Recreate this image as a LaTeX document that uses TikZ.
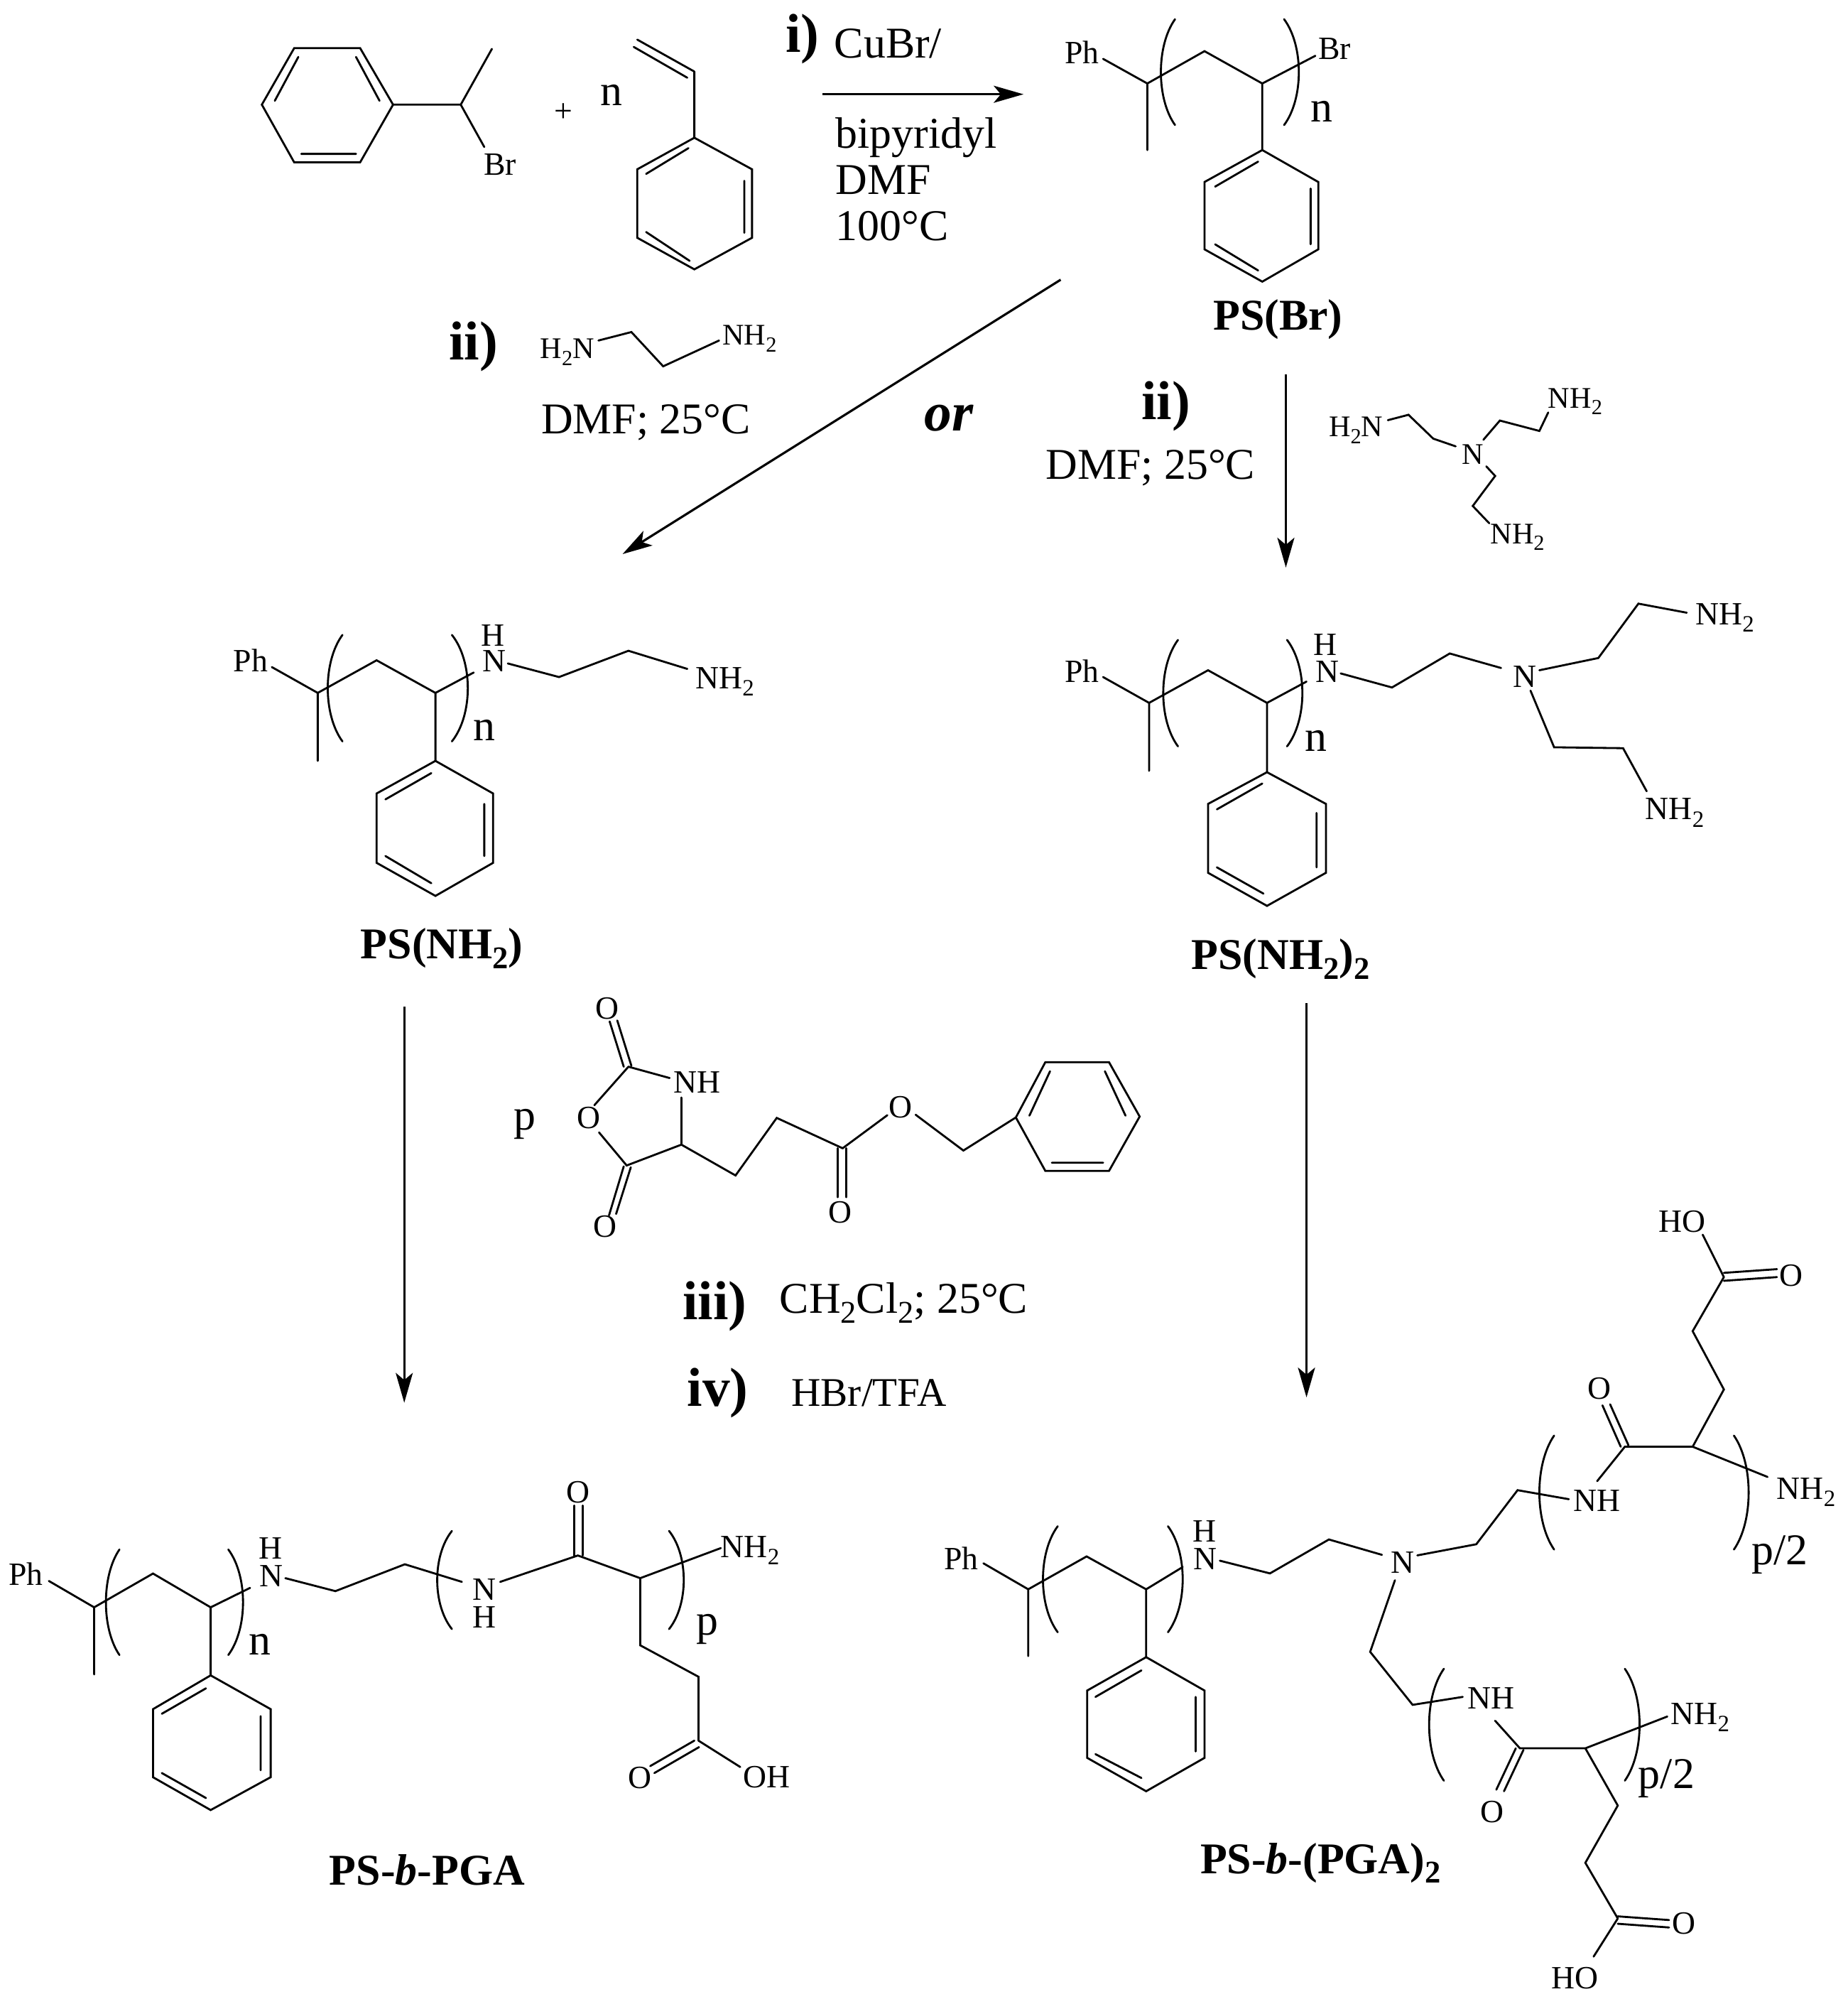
\documentclass[tikz,border=0pt]{standalone}
\usepackage{fontspec}
\setmainfont{Liberation Serif}
\usetikzlibrary{arrows.meta}
\newcommand{\dn}[1]{\raisebox{-0.22em}{\scalebox{0.72}{#1}}}
\newcommand{\brk}[4]{\draw[bond] (#1,#2) .. controls ({#1+(#4-#1)*4/3},{#2+(#3-#2)/4}) and ({#1+(#4-#1)*4/3},{#2+3*(#3-#2)/4}) .. (#1,#3);}
\tikzset{
  bond/.style={line width=0.8pt,black,line cap=round,line join=miter},
  rxn/.style={line width=0.9pt,black,-{Stealth[length=0.42cm,width=0.24cm,inset=0.1cm]}},
  base/.style={inner sep=0pt,outer sep=0pt,anchor=base west,text=black},
  lab/.style={base,font=\fontsize{13}{15}\selectfont},
  labs/.style={base,font=\fontsize{12}{14}\selectfont},
  txt/.style={base,font=\fontsize{17.6}{20}\selectfont},
  ttl/.style={base,font=\fontsize{17.6}{20}\selectfont\bfseries},
  stp/.style={base,font=\fontsize{22}{24}\selectfont\bfseries},
  atom/.style={inner sep=0pt,outer sep=0pt,anchor=center,text=black,font=\fontsize{13}{15}\selectfont},
  zA/.style={x=0.008292cm,y=-0.005421cm},
  zB/.style={xshift=13cm,x=0.008297cm,y=-0.005421cm},
  zC/.style={yshift=-8cm,x=0.00829cm,y=-0.006378cm},
  zD/.style={xshift=13cm,yshift=-8cm,x=0.008297cm,y=-0.006378cm},
  zE/.style={yshift=-18cm,x=0.00829cm,y=-0.006512cm},
  zF/.style={xshift=13cm,yshift=-16.5cm,x=0.008297cm,y=-0.007468cm},
}
\begin{document}
\begin{tikzpicture}
\useasboundingbox (0,0) rectangle (26.01,-28.21);
\fill[white] (0,0) rectangle (26.01,-28.21);
% ---------- zone A: top left
\begin{scope}[zA]
\draw[bond] (445,272)--(500,125)--(612,125)--(668,272)--(612,422)--(500,422)--cycle;
\draw[bond] (467,262)--(507,148) (605,148)--(645,262) (512,400)--(605,400);
\draw[bond] (668,272)--(783,272)--(836,127) (783,272)--(823,382);
\node[lab] (brA) at (822,455) {Br};
\node[lab,anchor=center] (plus) at (958,292) {+};
\node[txt] (nA) at (1020,275) {n};
\draw[bond] (1083,103)--(1180,186) (1077,122)--(1168,202) (1180,186)--(1180,358);
\draw[bond] (1180,358)--(1278,440)--(1278,618)--(1180,700)--(1083,618)--(1083,440)--cycle;
\draw[bond] (1098,452)--(1170,385) (1265,470)--(1265,605) (1098,603)--(1172,678);
\node[stp] (stepi) at (1335,135) {i)};
\node[txt] (cubr) at (1418,150) {CuBr/};
\node[txt] (bipy) at (1420,385) {bipyridyl};
\node[txt] (dmfA) at (1420,505) {DMF};
\node[txt] (tempA) at (1420,625) {100°C};
\coordinate (a1s) at (1398,245);
\node[stp] (stepiiA) at (763,935) {ii)};
\node[labs] (h2nA) at (918,932) {H\dn{2}N};
\node[labs] (nh2A) at (1228,897) {NH\dn{2}};
\draw[bond] (1017,885)--(1073,863)--(1127,952)--(1222,885);
\node[txt] (dmfB) at (920,1128) {DMF; 25°C};
\coordinate (a2e) at (1058,1440);
\end{scope}
% ---------- zone B: top right
\begin{scope}[zB]
\coordinate (a1e) at (170,245);
\coordinate (a2s) at (233,727);
\node[lab] (phB) at (240,165) {Ph};
\draw[bond] (305,153)--(380,217)--(380,390) (380,217)--(477,133)--(575,217)--(665,145) (575,217)--(575,390);
\node[lab] (brB) at (670,155) {Br};
\brk{427}{50}{325}{403}
\brk{612}{50}{325}{637}
\node[txt] (nB) at (657,317) {n};
\draw[bond] (575,390)--(670,473)--(670,648)--(575,732)--(477,648)--(477,473)--cycle;
\draw[bond] (495,485)--(568,420) (657,490)--(657,635) (495,635)--(568,703);
\node[ttl] (psbr) at (492,858) {PS(Br)};
\node[base,font=\fontsize{22}{24}\selectfont\bfseries\itshape,anchor=base east] (orlab) at (85,1120) {or};
\node[stp] (stepiiB) at (370,1090) {ii)};
\node[txt] (dmfC) at (208,1245) {DMF; 25°C};
\coordinate (a3s) at (615,973);
\coordinate (a3e) at (615,1475);
\node[labs] (h2nB) at (688,1135) {H\dn{2}N};
\draw[bond] (788,1092)--(823,1078)--(865,1140)--(903,1160);
\node[labs] (nB2) at (914,1207) {N};
\draw[bond] (950,1143)--(978,1093)--(1045,1120)--(1060,1072);
\node[labs] (nh2B) at (1060,1060) {NH\dn{2}};
\draw[bond] (955,1212)--(970,1237)--(932,1315)--(960,1360);
\node[labs] (nh2C) at (962,1413) {NH\dn{2}};
\end{scope}
% ---------- zone C: middle left
\begin{scope}[zC]
\node[lab] (phC) at (397,228) {Ph};
\draw[bond] (462,218)--(540,275)--(540,425) (540,275)--(640,203)--(740,275)--(805,230) (740,275)--(740,425);
\node[atom] (hC) at (838,148) {H};
\node[lab] (nC) at (820,228) {N};
\draw[bond] (863,210)--(950,240)--(1068,182)--(1168,222);
\node[lab] (nh2D) at (1182,265) {NH\dn{2}};
\brk{582}{147}{382}{557}
\brk{768}{147}{382}{795}
\node[txt] (nnC) at (805,380) {n};
\draw[bond] (740,425)--(838,497)--(838,650)--(740,723)--(640,650)--(640,497)--cycle;
\draw[bond] (655,510)--(733,452) (823,520)--(823,635) (655,635)--(733,695);
\node[ttl] (psnh) at (613,862) {PS(NH\dn{2})};
\coordinate (a4s) at (687,967);
\node[txt] (pC) at (873,1240) {p};
\node[atom] (oa) at (1032,972) {O};
\draw[bond] (1036,1000)--(1060,1100) (1049,998)--(1073,1098);
\draw[bond] (1068,1100)--(1138,1125);
\node[lab] (nhC) at (1145,1158) {NH};
\draw[bond] (1158,1168)--(1158,1272)--(1065,1318)--(1018,1245);
\node[atom] (ob) at (1000,1213) {O};
\draw[bond] (1010,1185)--(1068,1100);
\draw[bond] (1060,1320)--(1035,1428) (1072,1322)--(1047,1425);
\node[atom] (oc) at (1028,1452) {O};
\draw[bond] (1158,1272)--(1250,1340)--(1320,1213)--(1432,1280);
\draw[bond] (1424,1280)--(1424,1388) (1438,1280)--(1438,1388);
\node[atom] (od) at (1428,1422) {O};
\draw[bond] (1432,1280)--(1508,1207);
\node[atom] (oe) at (1530,1190) {O};
\end{scope}
% ---------- zone D: middle right
\begin{scope}[zD]
\draw[bond] (-13,1206)--(68,1285)--(157,1212);
\draw[bond] (157,1212)--(207,1090)--(315,1090)--(367,1210)--(315,1330)--(207,1330)--cycle;
\draw[bond] (180,1208)--(215,1110) (308,1110)--(343,1208) (218,1312)--(305,1312);
\node[lab] (phD) at (240,252) {Ph};
\draw[bond] (305,240)--(383,297)--(383,447) (383,297)--(483,225)--(583,297)--(650,250) (583,297)--(583,450);
\node[atom] (hD) at (682,168) {H};
\node[lab] (nD) at (665,252) {N};
\draw[bond] (708,232)--(795,263)--(893,188)--(980,220);
\node[lab] (nD2) at (1000,262) {N};
\draw[bond] (1045,225)--(1145,198)--(1213,78)--(1295,98);
\node[lab] (nh2E) at (1310,125) {NH\dn{2}};
\draw[bond] (1030,270)--(1070,395)--(1187,397)--(1227,492);
\node[lab] (nh2F) at (1225,555) {NH\dn{2}};
\brk{432}{158}{393}{407}
\brk{617}{158}{393}{643}
\node[txt] (nnD) at (647,403) {n};
\draw[bond] (583,450)--(683,520)--(683,672)--(583,745)--(483,672)--(483,520)--cycle;
\draw[bond] (498,532)--(575,475) (667,540)--(667,660) (498,660)--(577,718);
\node[ttl] (psnh2) at (455,885) {PS(NH\dn{2})\dn{2}};
\coordinate (a5s) at (650,960);
\end{scope}
% ---------- zone E: bottom left
\begin{scope}[zE]
\coordinate (a4e) at (687,268);
\node[stp] (stepiii) at (1160,88) {iii)};
\node[txt] (dcm) at (1325,75) {CH\dn{2}Cl\dn{2}; 25°C};
\node[stp] (stepiv) at (1168,275) {iv)};
\node[txt,font=\fontsize{16.3}{18}\selectfont] (hbr) at (1345,275) {HBr/TFA};
\node[lab] (phE) at (15,663) {Ph};
\draw[bond] (83,653)--(160,710)--(160,855) (160,710)--(260,637)--(358,710)--(425,668) (358,710)--(358,857);
\node[atom] (hE) at (460,583) {H};
\node[lab] (nE) at (441,665) {N};
\draw[bond] (485,647)--(570,675)--(688,617)--(785,655);
\node[lab] (nE2) at (803,695) {N};
\node[lab] (hE2) at (803,755) {H};
\draw[bond] (850,655)--(982,598)--(1088,647)--(1225,582);
\node[lab] (nh2G) at (1225,602) {NH\dn{2}};
\draw[bond] (976,598)--(976,490) (990,598)--(990,490);
\node[atom] (oE) at (982,462) {O};
\draw[bond] (1088,647)--(1088,792)--(1187,860)--(1187,998);
\draw[bond] (1180,998)--(1105,1053) (1188,1012)--(1112,1068);
\node[atom] (oE2) at (1088,1078) {O};
\draw[bond] (1187,998)--(1258,1055);
\node[lab] (ohE) at (1263,1100) {OH};
\brk{203}{585}{813}{180}
\brk{388}{585}{813}{413}
\node[txt] (nnE) at (423,812) {n};
\brk{768}{545}{757}{743}
\brk{1137}{545}{757}{1162}
\node[txt] (pE) at (1183,770) {p};
\draw[bond] (358,857)--(460,930)--(460,1077)--(358,1148)--(260,1077)--(260,930)--cycle;
\draw[bond] (275,940)--(350,885) (443,945)--(443,1062) (275,1068)--(350,1122);
\node[ttl] (psbpga) at (560,1310) {PS-\textit{b}-PGA};
\end{scope}
% ---------- zone F: bottom right
\begin{scope}[zF]
\coordinate (a5e) at (650,425);
\node[lab] (phF) at (35,750) {Ph};
\draw[bond] (102,738)--(178,787)--(178,913) (178,787)--(277,725)--(378,787)--(440,745) (378,787)--(378,915);
\brk{228}{668}{868}{203}
\brk{415}{668}{868}{440}
\node[atom] (hF) at (477,678) {H};
\node[lab] (nF) at (458,750) {N};
\draw[bond] (503,733)--(588,757)--(688,693)--(778,722);
\node[lab] (nF2) at (793,757) {N};
\draw[bond] (838,723)--(938,702)--(1008,600)--(1095,617);
\node[lab] (nhF) at (1103,640) {NH};
\draw[bond] (1143,583)--(1190,518)--(1305,518)--(1432,575);
\draw[bond] (1183,518)--(1152,440) (1196,515)--(1165,438);
\node[atom] (oF) at (1147,408) {O};
\node[lab] (nh2H) at (1448,617) {NH\dn{2}};
\draw[bond] (1305,518)--(1358,410)--(1305,300)--(1358,198);
\node[lab] (hoF) at (1247,113) {HO};
\draw[bond] (1322,118)--(1358,198);
\draw[bond] (1358,190)--(1448,183) (1358,205)--(1448,198);
\node[atom] (oF2) at (1472,195) {O};
\brk{1070}{497}{712}{1045}
\brk{1375}{497}{712}{1400}
\node[txt] (pF) at (1405,740) {p/2};
\draw[bond] (800,770)--(758,905)--(830,1005)--(915,990);
\node[lab] (nhF2) at (923,1013) {NH};
\draw[bond] (970,1035)--(1012,1087)--(1123,1087)--(1262,1027);
\draw[bond] (1005,1087)--(972,1165) (1018,1090)--(985,1168);
\node[atom] (oF3) at (965,1207) {O};
\node[lab] (nh2I) at (1268,1042) {NH\dn{2}};
\draw[bond] (1123,1087)--(1178,1195)--(1123,1303)--(1178,1408);
\draw[bond] (1178,1404)--(1265,1411) (1178,1418)--(1265,1425);
\node[atom] (oF4) at (1290,1418) {O};
\draw[bond] (1178,1408)--(1137,1480);
\node[lab] (hoF2) at (1065,1540) {HO};
\brk{883}{937}{1148}{858}
\brk{1190}{937}{1148}{1215}
\node[txt] (pF2) at (1213,1163) {p/2};
\draw[bond] (378,915)--(477,978)--(477,1105)--(378,1168)--(278,1105)--(278,978)--cycle;
\draw[bond] (292,990)--(370,940) (462,990)--(462,1093) (292,1098)--(370,1143);
\node[ttl] (psbpga2) at (470,1323) {PS-\textit{b}-(PGA)\dn{2}};
\end{scope}
% ---------- reaction arrows
\draw[rxn] (a1s)--(a1e);
\draw[rxn] (a2s)--(a2e);
\draw[rxn] (a3s)--(a3e);
\draw[rxn] (a4s)--(a4e);
\draw[rxn] (a5s)--(a5e);
\end{tikzpicture}
\end{document}
